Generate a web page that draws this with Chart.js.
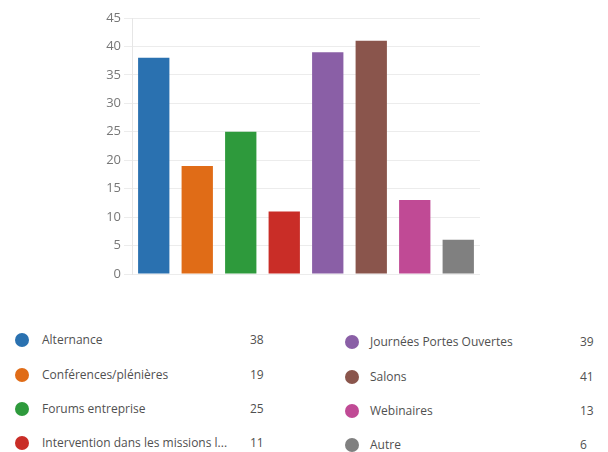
<!DOCTYPE html>
<html>
<head>
<meta charset="utf-8">
<script src="https://cdn.jsdelivr.net/npm/chart.js@4/dist/chart.umd.min.js"></script>
<style>
  body { margin: 0; background: #fff; width: 608px; height: 452px; overflow: hidden; font-family: "Open Sans", "Noto Sans", sans-serif; }
  #wrap { position: absolute; left: 0; top: 0; width: 608px; height: 290px; }
  .item { position: absolute; height: 20px; font-size: 12px; color: #505050; line-height: 20px; }
  .dot { position: absolute; width: 14px; height: 14px; border-radius: 50%; top: 3px; }
  .lab { position: absolute; white-space: nowrap; }
  .val { position: absolute; }
</style>
</head>
<body>
<div id="wrap"><canvas id="barChart"></canvas></div>
<div id="legend"></div>
<script>
const categories = ['Alternance', 'Conférences/plénières', 'Forums entreprise', 'Intervention dans les missions l...',
  'Journées Portes Ouvertes', 'Salons', 'Webinaires', 'Autre'];
const counts = [38, 19, 25, 11, 39, 41, 13, 6];
const colors = ['#2a71b0', '#e06c17', '#2e9a3c', '#c92d27', '#8a5fa6', '#8a554c', '#c04a95', '#808080'];

var ctx = document.getElementById('barChart').getContext('2d');
var myChart = new Chart(ctx, {
    type: 'bar',
    data: {
        labels: categories,
        datasets: [{
            data: counts,
            backgroundColor: colors,
            borderWidth: 0
        }]
    },
    options: {
        responsive: true,
        maintainAspectRatio: false,
        animation: false,
        layout: {
            padding: { left: 82, right: 128, top: 18, bottom: 16 }
        },
        scales: {
            x: {
                display: false
            },
            y: {
                min: 0,
                max: 45,
                ticks: {
                    stepSize: 5,
                    color: '#777',
                    font: { size: 13, family: '"Open Sans", sans-serif' }
                },
                grid: { color: '#ececec' },
                border: { color: '#e6e6e6' },
                afterFit: (scale) => { scale.width = 50; }
            }
        },
        plugins: {
            legend: { display: false },
            tooltip: { enabled: false }
        }
    }
});

// legend below the chart, two columns
let legend = document.getElementById('legend');
const rowsLeft = [340, 375, 409, 443];
const rowsRight = [342, 377, 411, 445];
categories.forEach((cat, i) => {
    let col = i < 4 ? 0 : 1;
    let y = (col == 0 ? rowsLeft : rowsRight)[i % 4] - 10;
    let item = document.createElement('div');
    item.className = 'item';
    item.style.top = y + 'px';
    item.style.left = '0px';
    item.style.width = '608px';
    let dotX = col == 0 ? 15 : 345;
    let labX = col == 0 ? 42 : 370;
    let valX = col == 0 ? 250 : 580;
    item.innerHTML = '<span class="dot" style="left:' + dotX + 'px;background:' + colors[i] + '"></span>' +
        '<span class="lab" style="left:' + labX + 'px">' + cat + '</span>' +
        '<span class="val" style="left:' + valX + 'px">' + counts[i] + '</span>';
    legend.appendChild(item);
});
</script>
</body>
</html>
